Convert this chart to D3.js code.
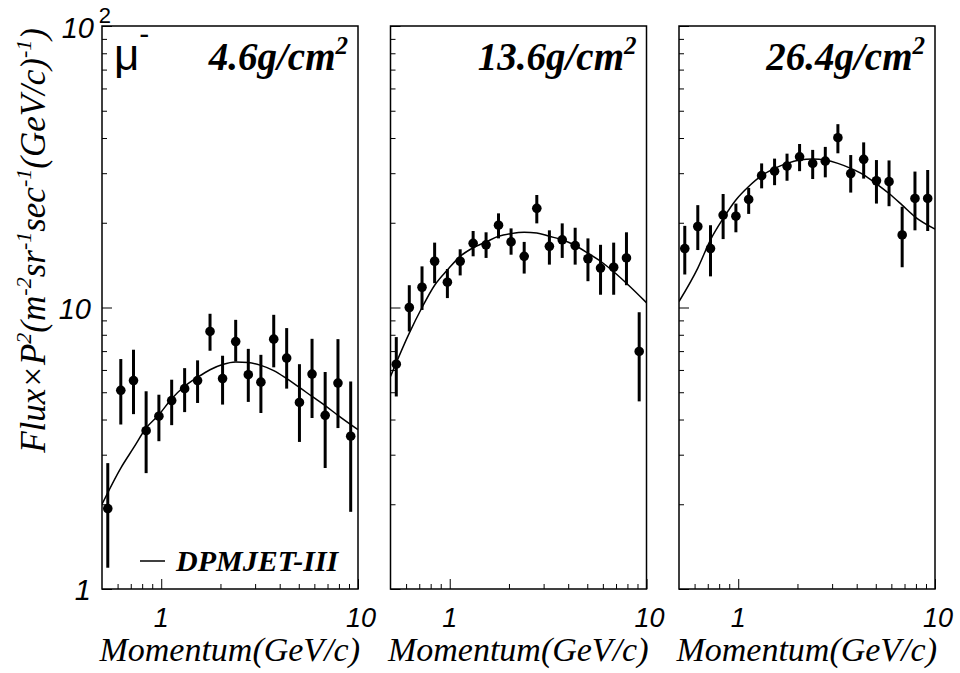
<!DOCTYPE html>
<html>
<head>
<meta charset="utf-8">
<script src="https://cdn.jsdelivr.net/npm/d3@7"></script>
<style>
  body { margin: 0; background: #fff; }
  svg { display: block; }
</style>
</head>
<body>
<div id="vis-container"></div>
<script>
// momentum bin centres (GeV/c), shared by the three panels
var momentum = [0.535, 0.623, 0.723, 0.838, 0.973, 1.13, 1.315, 1.53, 1.77, 2.05,
                2.39, 2.77, 3.21, 3.73, 4.34, 5.04, 5.84, 6.81, 7.91, 9.18];
var depths = ["4.6", "13.6", "26.4"];

// 4.6 g/cm2
var flux1   = [1.93, 5.08, 5.50, 3.65, 4.11, 4.67, 5.15, 5.50, 8.22, 5.59,
               7.57, 5.77, 5.43, 7.72, 6.61, 4.60, 5.80, 4.14, 5.39, 3.49];
var errHi1  = [2.80, 6.56, 7.08, 5.04, 4.90, 5.54, 6.09, 6.49, 9.50, 6.74,
               9.04, 7.13, 6.79, 9.42, 8.45, 6.29, 7.74, 5.90, 7.72, 5.46];
var errLo1  = [1.19, 3.84, 4.18, 2.58, 3.35, 3.82, 4.25, 4.58, 7.02, 4.52,
               6.43, 4.62, 4.22, 6.13, 5.15, 3.33, 4.05, 2.69, 3.73, 1.88];
// 13.6 g/cm2
var flux2   = [6.29, 10.0, 11.8, 14.6, 12.3, 14.6, 16.9, 16.7, 19.6, 17.1,
               15.2, 22.5, 16.5, 17.4, 16.6, 14.9, 13.8, 13.9, 15.0, 6.98];
var errHi2  = [7.85, 12.0, 14.0, 17.0, 13.7, 16.1, 18.7, 18.5, 21.6, 19.1,
               17.1, 25.1, 18.8, 19.9, 19.2, 17.6, 16.7, 17.0, 18.5, 9.62];
var errLo2  = [4.83, 8.22, 9.8, 12.2, 10.8, 13.0, 15.2, 15.0, 17.6, 15.4,
               13.2, 19.9, 14.2, 15.0, 14.2, 12.4, 11.1, 11.1, 12.0, 4.64];
// 26.4 g/cm2
var flux3   = [16.2, 19.4, 16.2, 21.3, 21.1, 24.2, 29.4, 30.5, 31.8, 34.3,
               32.5, 33.1, 40.1, 29.9, 33.6, 28.2, 28.0, 18.1, 24.4, 24.4];
var errHi3  = [19.5, 23.1, 19.6, 25.3, 23.4, 26.6, 32.5, 33.8, 35.2, 38.1,
               36.3, 37.2, 44.8, 34.8, 38.6, 33.4, 33.3, 22.8, 30.4, 30.8];
var errLo3  = [13.1, 16.0, 12.9, 17.5, 18.5, 21.5, 26.5, 27.2, 28.2, 30.5,
               28.6, 29.0, 35.3, 25.6, 28.7, 23.4, 22.9, 13.9, 18.8, 18.7];

// DPMJET-III curves, read at these momenta
var modelP  = [0.5, 0.623, 0.723, 0.838, 0.973, 1.13, 1.315, 1.53, 1.77, 2.05,
               2.39, 2.77, 3.21, 3.73, 4.34, 5.04, 5.84, 6.81, 7.91, 10];
var model1  = [2.00, 2.69, 3.17, 3.73, 4.16, 4.74, 5.25, 5.65, 6.01, 6.27,
               6.40, 6.38, 6.23, 5.97, 5.59, 5.20, 4.83, 4.48, 4.14, 3.68];
var model2  = [5.69, 8.11, 10.0, 12.0, 13.6, 15.2, 16.3, 17.1, 17.9, 18.3,
               18.5, 18.4, 17.9, 17.4, 16.6, 15.6, 14.6, 13.4, 12.2, 10.4];
var model3  = [10.5, 13.8, 17.4, 20.7, 24.1, 26.9, 29.4, 31.2, 32.5, 33.4,
               33.7, 33.4, 32.5, 31.2, 29.6, 27.5, 25.4, 23.1, 21.0, 19.0];

var fluxes = [flux1, flux2, flux3];
var errHis = [errHi1, errHi2, errHi3];
var errLos = [errLo1, errLo2, errLo3];
var models = [model1, model2, model3];

var W = 960, H = 673;
var plotTop = 26, plotBottom = 589, panelW = 256, gap = 32.5, left0 = 102;

var svg = d3.select("#vis-container").append("svg")
    .attr("width", W)
    .attr("height", H);
svg.append("rect").attr("width", W).attr("height", H).attr("fill", "#fff");

var y = d3.scaleLog().domain([1, 100]).range([plotBottom, plotTop]);
var x = d3.scaleLog().domain([0.5, 10]).range([0, panelW]);

var serif = "'Liberation Serif', 'Times New Roman', serif";
var sans = "'Liberation Sans', Arial, sans-serif";

var isMajor = function(v) {
    var l = Math.log10(v);
    return Math.abs(l - Math.round(l)) < 1e-6;
};

depths.forEach(function(depth, i) {
    var g = svg.append("g")
        .attr("transform", "translate(" + (left0 + i * (panelW + gap)) + ",0)");

    var clipId = "clip" + i;
    g.append("clipPath").attr("id", clipId)
      .append("rect").attr("x", 0).attr("y", plotTop).attr("width", panelW).attr("height", plotBottom - plotTop);

    // y ticks on the left side, pointing inward
    var yAx = g.append("g")
        .call(d3.axisRight(y).tickValues(y.ticks()).tickFormat(""));
    yAx.select(".domain").remove();
    yAx.selectAll(".tick line")
        .attr("x2", function(d) { return isMajor(d) ? 10 : 5; })
        .attr("stroke", "#000").attr("stroke-width", 1);

    // x ticks along the bottom, pointing up
    var xAx = g.append("g")
        .attr("transform", "translate(0," + plotBottom + ")")
        .call(d3.axisTop(x).tickValues(x.ticks().filter(function(d) { return d > 0.5; })).tickFormat(""));
    xAx.select(".domain").remove();
    xAx.selectAll(".tick line")
        .attr("y2", function(d) { return isMajor(d) ? -10 : -5; })
        .attr("stroke", "#000").attr("stroke-width", 1);

    // x labels
    [1, 10].forEach(function(v) {
        g.append("text")
            .attr("x", x(v) + (v === 10 ? 3 : 0))
            .attr("y", 627)
            .attr("text-anchor", "middle")
            .attr("font-family", sans)
            .attr("font-style", "italic")
            .attr("font-size", 27)
            .text(v);
    });

    // axis title
    g.append("text")
        .attr("x", panelW + 2)
        .attr("y", 661)
        .attr("text-anchor", "end")
        .attr("font-family", serif)
        .attr("font-style", "italic")
        .attr("font-size", 34)
        .text("Momentum(GeV/c)");

    // model curve
    var line = d3.line()
        .x(function(d) { return x(d[0]); })
        .y(function(d) { return y(d[1]); })
        .curve(d3.curveMonotoneX);
    g.append("path")
        .datum(d3.zip(modelP, models[i]))
        .attr("clip-path", "url(#" + clipId + ")")
        .attr("fill", "none")
        .attr("stroke", "#000")
        .attr("stroke-width", 1.5)
        .attr("d", line);

    // error bars
    g.selectAll(".err")
        .data(momentum)
        .enter().append("line")
        .attr("class", "err")
        .attr("x1", function(d) { return x(d); })
        .attr("x2", function(d) { return x(d); })
        .attr("y1", function(d, j) { return y(errHis[i][j]); })
        .attr("y2", function(d, j) { return y(errLos[i][j]); })
        .attr("stroke", "#000")
        .attr("stroke-width", 3);

    // points
    g.selectAll(".pt")
        .data(momentum)
        .enter().append("circle")
        .attr("class", "pt")
        .attr("cx", function(d) { return x(d); })
        .attr("cy", function(d, j) { return y(fluxes[i][j]); })
        .attr("r", 4.8)
        .attr("fill", "#000");

    // frame
    g.append("rect")
        .attr("x", 0).attr("y", plotTop)
        .attr("width", panelW).attr("height", plotBottom - plotTop)
        .attr("fill", "none")
        .attr("stroke", "#000")
        .attr("stroke-width", 1.5);

    // depth label
    var lab = g.append("text")
        .attr("x", panelW - 10)
        .attr("y", 70)
        .attr("text-anchor", "end")
        .attr("font-family", serif)
        .attr("font-style", "italic")
        .attr("font-weight", "bold")
        .attr("font-size", 39);
    lab.append("tspan").text(depth + "g/cm");
    lab.append("tspan").attr("dy", -16).attr("font-size", 25).text("2");
});

// y tick labels (first panel only)
var yLab = svg.append("g")
    .attr("font-family", sans)
    .attr("font-style", "italic")
    .attr("font-size", 29)
    .attr("text-anchor", "end");
yLab.append("text").attr("x", 91).attr("y", y(1) + 11).text("1");
yLab.append("text").attr("x", 91).attr("y", y(10) + 11).text("10");
yLab.append("text").attr("x", 94).attr("y", 38).text("10");
yLab.append("text").attr("x", 111).attr("y", 23)
    .attr("font-size", 22).attr("font-style", "normal").text("2");

// y axis title
var yt = svg.append("text")
    .attr("transform", "translate(45,28) rotate(-90)")
    .attr("text-anchor", "end")
    .attr("font-family", serif)
    .attr("font-style", "italic")
    .attr("font-size", 35);
var parts = [["Flux\u00d7P", ""], ["2", "sup"], ["(m", ""], ["-2", "sup"], ["sr", ""], ["-1", "sup"],
             ["sec", ""], ["-1", "sup"], ["(GeV/c)", ""], ["-1", "sup"], [")", ""]];
var raised = false;
parts.forEach(function(p) {
    var ts = yt.append("tspan").text(p[0]);
    if (p[1] === "sup") {
        ts.attr("dy", -14).attr("font-size", 22);
        raised = true;
    } else if (raised) {
        ts.attr("dy", 14);
        raised = false;
    }
});

// mu- label
var mu = svg.append("text")
    .attr("x", 114).attr("y", 70)
    .attr("font-family", sans)
    .attr("font-size", 44);
mu.append("tspan").text("\u03bc");
mu.append("tspan").attr("dy", -26).attr("font-size", 30).text("-");

// legend
svg.append("line")
    .attr("x1", 140).attr("x2", 165)
    .attr("y1", 561).attr("y2", 561)
    .attr("stroke", "#000").attr("stroke-width", 1.5);
svg.append("text")
    .attr("x", 176).attr("y", 571)
    .attr("font-family", serif)
    .attr("font-style", "italic")
    .attr("font-weight", "bold")
    .attr("font-size", 30)
    .text("DPMJET-III");
</script>
</body>
</html>
